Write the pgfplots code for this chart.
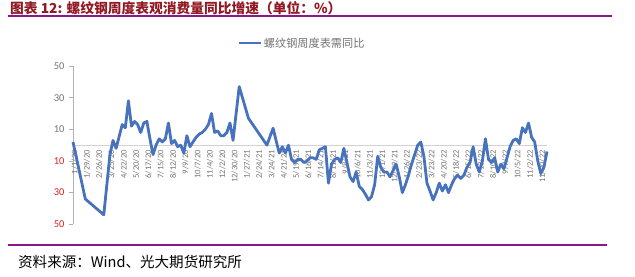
\documentclass[border=0pt]{standalone}
\usepackage{fontspec}
\setmainfont{Carlito}
\newfontfamily\cjk{Noto Sans CJK SC}
\usepackage{pgfplots}
\pgfplotsset{compat=1.18}
\definecolor{lineblue}{RGB}{70,114,190}
\definecolor{titlered}{RGB}{145,25,35}
\definecolor{barpurple}{RGB}{140,20,140}
\definecolor{tickgray}{RGB}{115,115,115}
\definecolor{negred}{RGB}{220,30,30}
\begin{document}
\begin{tikzpicture}
\path[use as bounding box] (0bp,0bp) rectangle (635bp,-277bp);
\node[anchor=west, text=titlered, font=\cjk\bfseries\fontsize{13.8}{15}\selectfont, inner sep=0pt] at (10bp,-8bp) {图表 12: 螺纹钢周度表观消费量同比增速（单位：\%）};
\draw[barpurple, line width=2bp] (8bp,-16bp) -- (612bp,-16bp);
\draw[barpurple, line width=2.5bp] (8bp,-245bp) -- (607bp,-245bp);
\node[anchor=west, font=\cjk\fontsize{14.6}{16}\selectfont, inner sep=0pt] at (18bp,-262bp) {资料来源：Wind、光大期货研究所};
\begin{axis}[
  at={(73bp,-66bp)}, anchor=north west, scale only axis,
  width=474bp, height=158.3bp,
  xmin=0, xmax=154, ymin=-50, ymax=50,
  clip=false,
  axis x line=middle, axis y line=left,
  hide obscured x ticks=false,
  x axis line style={-, draw=gray!35, line width=0.8bp},
  y axis line style={-, draw=gray!60, line width=0.8bp},
  xtick={0,4,...,152},
  xticklabels={1/1/20,1/29/20,2/26/20,3/25/20,4/22/20,5/20/20,6/17/20,7/15/20,8/12/20,9/9/20,10/7/20,11/4/20,12/2/20,12/30/20,1/27/21,2/24/21,3/24/21,4/21/21,5/19/21,6/16/21,7/14/21,8/11/21,9/8/21,10/6/21,11/3/21,12/1/21,12/29/21,1/26/22,2/23/22,3/23/22,4/20/22,5/18/22,6/15/22,7/13/22,8/10/22,9/7/22,10/5/22,11/2/22,11/30/22},
  xtick style={draw=none},
  xticklabel style={rotate=90, anchor=east, font=\fontsize{8.5}{10}\selectfont, text=tickgray, inner sep=1bp, yshift=-1.5bp},
  ytick={-50,-30,-10,10,30,50},
  yticklabels={{\textcolor{negred}{50}},{\textcolor{negred}{30}},{\textcolor{negred}{10}},10,30,50},
  ytick style={draw=gray!60, line width=0.8bp},
  tick align=outside, major tick length=4bp,
  yticklabel style={font=\fontsize{10.5}{12}\selectfont, text=tickgray, xshift=-1bp},
  legend style={at={(0.346,1.145)}, anchor=west, draw=none, fill=none, font=\cjk\fontsize{11.2}{12}\selectfont, text=tickgray, inner sep=0pt},
  legend image code/.code={\draw[#1] (0bp,0bp) -- (22bp,0bp);},
]
\addplot[lineblue, line width=2.8bp, line join=round] coordinates {
(0,2)(4,-34)(10,-44)(12,-6)(13,3)(14,-2)(16,13)(17,11)(18,28)(19,12)(20,15)(21,13)(22,8)(23,14)(24,15)(25,4)(26,-6)(27,0)(28,4)(29,2)(30,4)(31,14)(32,1)(33,3)(34,-1)(35,0)(36,-5)(37,6)(38,-1)(39,2)(40,5)(41,7)(42,8)(43,10)(44,13)(45,20)(46,8)(47,9)(48,6)(49,6)(50,8)(51,14)(52,3)(54,37)(57,17)(63,0)(65,10.7)(67,-5)(68,-1)(69,-5)(70,0)(71,-9)(72,-11)(73,-9)(74,-9)(75,-11)(76,-10)(77,-8)(78,-8)(79,-9)(80,-3)(81,-2)(82,-1)(83,-24)(84,-12)(85,-9)(86,-8)(87,-11)(88,-2)(89,-11)(90,-20)(91,-23)(92,-17)(93,-26)(94,-28)(95,-31)(96,-34.6)(97,-32.5)(98,-25)(99,-7)(100,-14)(101,-17)(102,-17)(103,-20)(104,-16)(105,-12)(106,-20)(107,-30)(108,-25)(109,-19)(110,-12)(111,-6)(112,0)(113,2)(114,-7)(115,-24)(116,-29)(117,-34.6)(118,-30)(119,-24)(120,-29)(121,-25)(122,-30)(123,-25)(124,-21)(125,-19)(126,-21)(127,-19)(128,-14)(129,-11)(130,-1)(131,-12)(132,-17)(133,-10)(134,4)(135,-9)(136,-11)(137,-8)(138,-17)(139,-12)(140,-15)(141,-8)(142,-1)(143,3)(144,4)(145,1)(146,11)(147,8)(148,14)(149,5)(150,2)(151,-10)(152,-18)(153,-14)(154,-4)
};
\addlegendentry{螺纹钢周度表需同比}
\end{axis}
\end{tikzpicture}
\end{document}
